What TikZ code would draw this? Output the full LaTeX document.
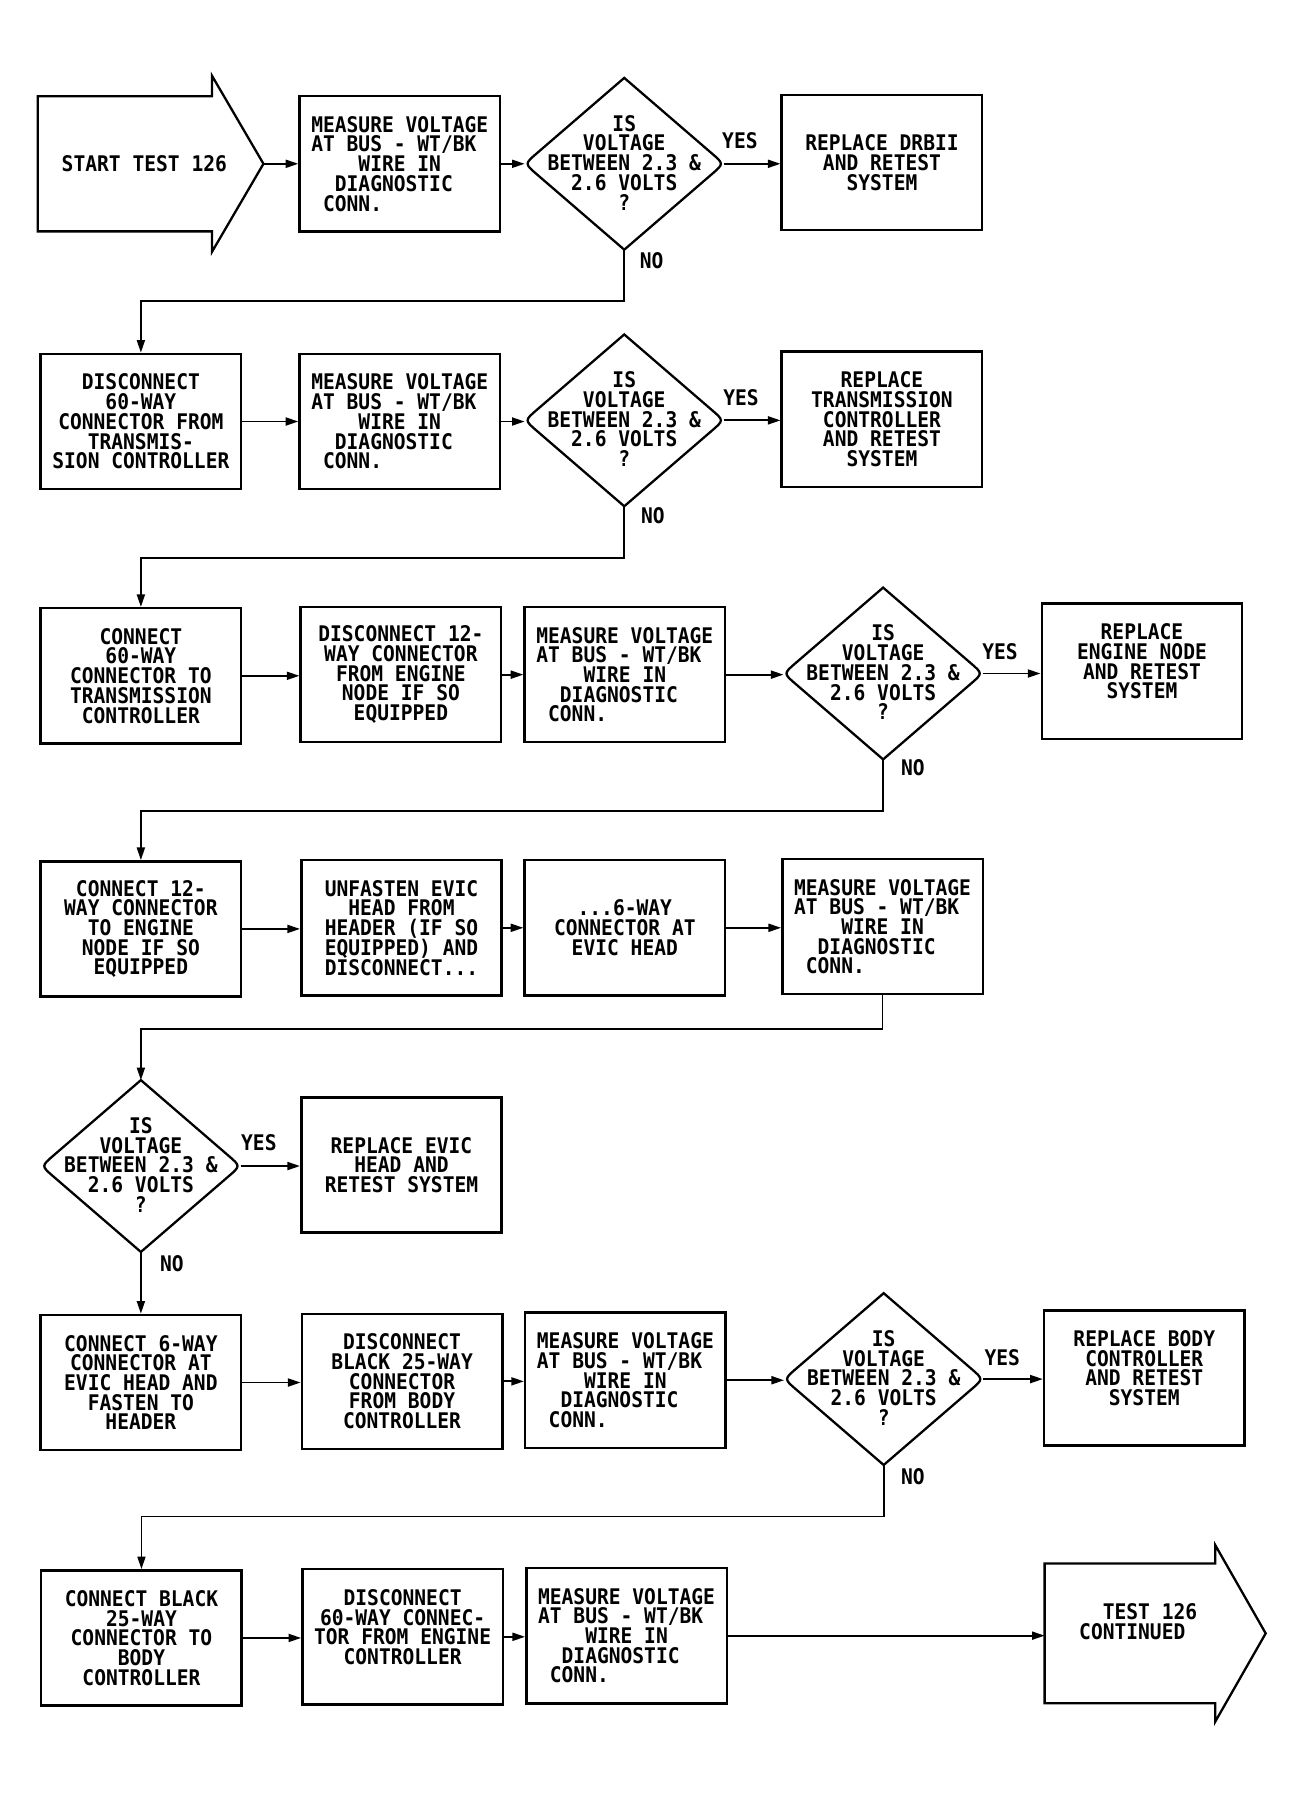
\documentclass[tikz,border=0pt]{standalone}
\usepackage{fontspec}
\newfontfamily\plotfont[FakeStretch=0.91]{DejaVu Sans Mono}
\usetikzlibrary{arrows.meta,calc}
\newcommand{\pfont}{\plotfont\bfseries\fontsize{18.8pt}{17.2pt}\selectfont\lineskiplimit=-30pt\relax}
\newcommand{\measuretext}{MEASURE VOLTAGE\\AT BUS - WT/BK\phantom{X}\\WIRE IN\\DIAGNOSTIC\phantom{X}\\CONN.\phantom{XXXXXXXX}}
\newcommand{\decision}[3]{%
  \node[dtext] (#1) at (#2,#3-1) {IS\\VOLTAGE\\BETWEEN 2.3 \&\\2.6 VOLTS\\?};
  \coordinate (#1-t) at (#2,#3-75);
  \coordinate (#1-b) at (#2,#3+75);
  \coordinate (#1-l) at (#2-87,#3);
  \coordinate (#1-r) at (#2+87,#3);
  \draw[dline] (#1-t) -- ($(#1-l)+(10.6,-9.1)$) .. controls (#1-l) .. ($(#1-l)+(10.6,9.1)$) -- (#1-b) -- ($(#1-r)+(-10.6,9.1)$) .. controls (#1-r) .. ($(#1-r)+(-10.6,-9.1)$) -- cycle;
}
\begin{document}
\begin{tikzpicture}[x=1pt,y=-1pt,
  box/.style={draw, line width=2.2pt, minimum width=175pt, minimum height=118pt, inner sep=0pt, align=center, font=\pfont},
  dtext/.style={inner sep=0pt, align=center, font=\pfont},
  lbl/.style={inner sep=0pt, font=\pfont},
  dline/.style={line width=2pt, line join=miter},
  conn/.style={line width=1.6pt, -{Triangle[length=11pt,width=7pt]}}]
\fill[white] (0,0) rectangle (1138,1568);
\useasboundingbox (0,0) rectangle (1138,1568);

% ---------- Row 1
\draw[dline] (33,84) -- (185,84) -- (185,66) -- (230,143) coordinate (stip) -- (185,220) -- (185,202) -- (33,202) -- cycle;
\node[lbl] (st) at (126,143) {START TEST 126};
\node[box] (m1) at (349,143) {\measuretext};
\decision{d1}{545}{143}
\node[box] (r1) at (770,142) {REPLACE DRBII\\AND RETEST\\SYSTEM};
\node[lbl] (y1) at (646,123) {YES};
\node[lbl] (n1) at (569,228) {NO};
\draw[conn] (stip) -- (m1.west);
\draw[conn] (m1.east) -- (d1-l);
\draw[conn] (d1-r) -- (d1-r -| r1.west);

% ---------- Row 2
\node[box] (a2) at (123,368) {DISCONNECT\\60-WAY\\CONNECTOR FROM\\TRANSMIS-\\SION CONTROLLER};
\node[box] (m2) at (349,368) {\measuretext};
\decision{d2}{545}{367}
\node[box] (r2) at (770,366) {REPLACE\\TRANSMISSION\\CONTROLLER\\AND RETEST\\SYSTEM};
\node[lbl] (y2) at (647,347) {YES};
\node[lbl] (n2) at (570,450) {NO};
\draw[conn] (d1-b) -- ++(0,45) -| (a2.north);
\draw[conn] (a2.east) -- (m2.west);
\draw[conn] (m2.east) -- (m2.east -| d2-l);
\draw[conn] (d2-r) -- (d2-r -| r2.west);

% ---------- Row 3
\node[box] (a3) at (123,590) {CONNECT\\60-WAY\\CONNECTOR TO\\TRANSMISSION\\CONTROLLER};
\node[box] (b3) at (350,589) {DISCONNECT 12-\\WAY CONNECTOR\\FROM ENGINE\\NODE IF SO\\EQUIPPED};
\node[box] (m3) at (545.5,589) {\measuretext};
\decision{d3}{771}{588}
\node[box] (r3) at (997,586) {REPLACE\\ENGINE NODE\\AND RETEST\\SYSTEM\\\mbox{}};
\node[lbl] (y3) at (873,569) {YES};
\node[lbl] (n3) at (797,670) {NO};
\draw[conn] (d2-b) -- ++(0,45) -| (a3.north);
\draw[conn] (a3.east) -- (a3.east -| b3.west);
\draw[conn] (b3.east) -- (m3.west);
\draw[conn] (m3.east) -- (m3.east -| d3-l);
\draw[conn] (d3-r) -- (d3-r -| r3.west);

% ---------- Row 4
\node[box] (a4) at (123,811) {CONNECT 12-\\WAY CONNECTOR\\TO ENGINE\\NODE IF SO\\EQUIPPED};
\node[box] (b4) at (350.5,810) {UNFASTEN EVIC\\HEAD FROM\\HEADER (IF SO\\EQUIPPED) AND\\DISCONNECT...};
\node[box] (c4) at (545.5,810) {...6-WAY\\CONNECTOR AT\\EVIC HEAD};
\node[box] (m4) at (770.5,809) {\measuretext};
\draw[conn] (d3-b) -- ++(0,45) -| (a4.north);
\draw[conn] (a4.east) -- (a4.east -| b4.west);
\draw[conn] (b4.east) -- (c4.west);
\draw[conn] (c4.east) -- (c4.east -| m4.west);

% ---------- Row 5
\decision{d5}{123}{1018}
\node[box] (r5) at (350.5,1017) {REPLACE EVIC\\HEAD AND\\RETEST SYSTEM};
\node[lbl] (y5) at (226,998) {YES};
\node[lbl] (n5) at (150,1103) {NO};
\draw[conn] (m4.south) -- ++(0,29) -| (d5-t);
\draw[conn] (d5-r) -- (d5-r -| r5.west);

% ---------- Row 6
\node[box] (a6) at (123,1207) {CONNECT 6-WAY\\CONNECTOR AT\\EVIC HEAD AND\\FASTEN TO\\HEADER};
\node[box] (b6) at (351,1206) {DISCONNECT\\BLACK 25-WAY\\CONNECTOR\\FROM BODY\\CONTROLLER};
\node[box] (m6) at (546,1205) {\measuretext};
\decision{d6}{771.5}{1204}
\node[box] (r6) at (999,1203) {REPLACE BODY\\CONTROLLER\\AND RETEST\\SYSTEM\\\mbox{}};
\node[lbl] (y6) at (875,1185) {YES};
\node[lbl] (n6) at (797,1289) {NO};
\draw[conn] (d5-b) -- (d5-b |- a6.north);
\draw[conn] (a6.east) -- (a6.east -| b6.west);
\draw[conn] (b6.east) -- (b6.east -| m6.west);
\draw[conn] (m6.east) -- (m6.east -| d6-l);
\draw[conn] (d6-r) -- (d6-r -| r6.west);

% ---------- Row 7
\node[box] (a7) at (123.5,1430) {CONNECT BLACK\\25-WAY\\CONNECTOR TO\\BODY\\CONTROLLER};
\node[box] (b7) at (351.5,1429) {DISCONNECT\\60-WAY CONNEC-\\TOR FROM ENGINE\\CONTROLLER\\\mbox{}};
\node[box] (m7) at (547,1428) {\measuretext};
\draw[dline] (912,1365) -- (1061,1365) -- (1061,1349) -- (1105,1426) coordinate (etip) -- (1061,1503) -- (1061,1487) -- (912,1487) -- cycle;
\coordinate (ein) at (912,1428);
\node[lbl, align=left, anchor=west] (et) at (942,1415.5) {\phantom{XX}TEST 126\\CONTINUED};
\draw[conn] (d6-b) -- ++(0,45) -| (a7.north);
\draw[conn] (a7.east) -- (a7.east -| b7.west);
\draw[conn] (b7.east) -- (b7.east -| m7.west);
\draw[conn] (m7.east) -- (ein);
\end{tikzpicture}
\end{document}
